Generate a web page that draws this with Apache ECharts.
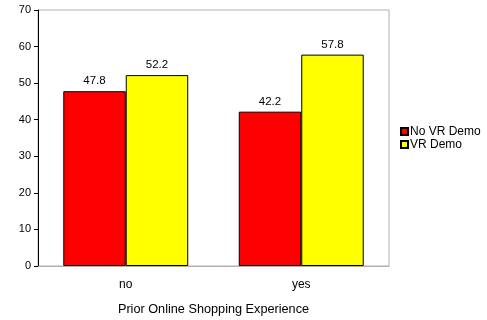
<!DOCTYPE html>
<html><head><meta charset="utf-8">
<script src="https://cdn.jsdelivr.net/npm/echarts@6/dist/echarts.min.js"></script>
<style>html,body{margin:0;padding:0;background:#fff}#c{width:487px;height:320px}</style>
</head><body><div id="c"></div>
<script>
const categories = ['no', 'yes'];
const noVrDemo = [47.8, 42.2];
const vrDemo = [52.2, 57.8];
const yTicks = [0, 10, 20, 30, 40, 50, 60, 70];

const chart = echarts.init(document.getElementById('c'));
const font = 'Liberation Sans, Arial, sans-serif';
chart.setOption({
  animation: false,
  grid: { left: 38, top: 10, width: 351, height: 256, show: true, borderColor: '#b0b0b0', borderWidth: 1,
          outerBoundsMode: 'none', containLabel: false },
  legend: {
    orient: 'vertical', left: 400, top: 125.5, padding: 0, itemWidth: 7, itemHeight: 7, itemGap: 1,
    textStyle: { fontFamily: font, fontSize: 12, lineHeight: 12, color: '#000', padding: [0, 0, 0, -3] },
    icon: 'rect',
    data: ['No VR Demo', 'VR Demo']
  },
  xAxis: {
    type: 'category', data: categories,
    name: 'Prior Online Shopping Experience', nameLocation: 'middle', nameGap: 37,
    nameTextStyle: { fontFamily: font, fontSize: 12.7, color: '#000' },
    axisLine: { lineStyle: { color: '#b0b0b0' } },
    axisTick: { show: false },
    axisLabel: { fontFamily: font, fontSize: 12, color: '#000', margin: 13 }
  },
  yAxis: {
    type: 'value', min: 0, max: 70, interval: 10,
    axisLine: { show: true, lineStyle: { color: '#000' } },
    axisTick: { show: true, length: 4, lineStyle: { color: '#000' } },
    splitLine: { show: false },
    axisLabel: { fontFamily: font, fontSize: 11, color: '#000', margin: 7 }
  },
  series: [
    { name: 'No VR Demo', type: 'bar', data: noVrDemo, barGap: '0%', barCategoryGap: '28.8%',
      itemStyle: { color: '#ff0000', borderColor: '#000', borderWidth: 1 },
      label: { show: true, position: 'top', fontFamily: font, fontSize: 11.5, color: '#000', distance: 4, formatter: p => p.value.toFixed(1) } },
    { name: 'VR Demo', type: 'bar', data: vrDemo,
      itemStyle: { color: '#ffff00', borderColor: '#000', borderWidth: 1 },
      label: { show: true, position: 'top', fontFamily: font, fontSize: 11.5, color: '#000', distance: 4, formatter: p => p.value.toFixed(1) } }
  ]
});
</script></body></html>
